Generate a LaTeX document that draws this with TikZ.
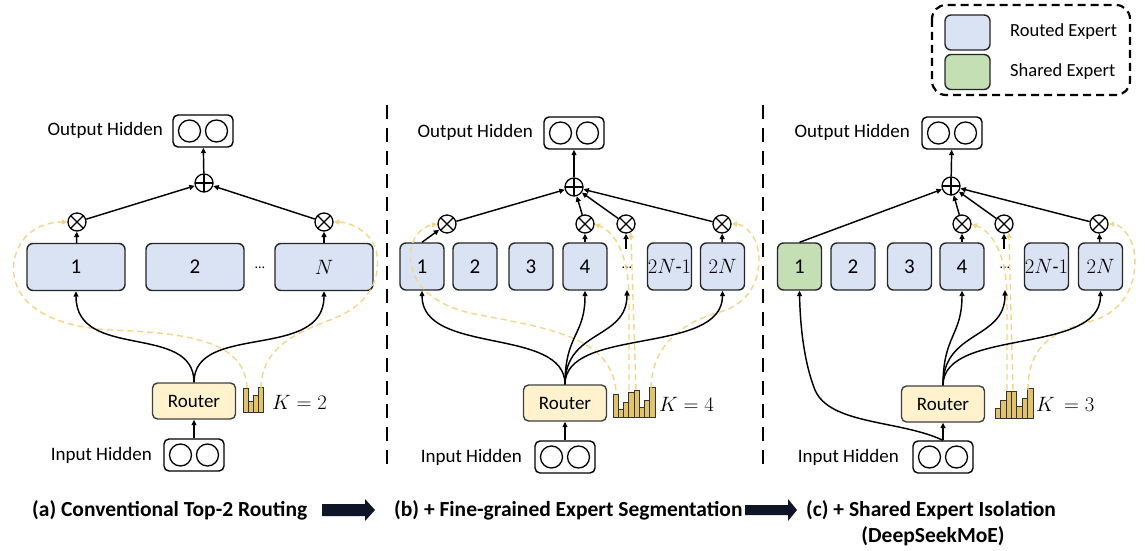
\documentclass[tikz,border=0pt]{standalone}
\usepackage{fontspec}
\setmainfont{Carlito}
\usetikzlibrary{arrows.meta}
\definecolor{routed}{HTML}{DAE3F3}
\definecolor{shared}{HTML}{C5DFB5}
\definecolor{routerfill}{HTML}{FFF2CC}
\definecolor{gold}{HTML}{E0C36A}
\definecolor{ydash}{HTML}{F3D68A}
\definecolor{navy}{HTML}{0E1526}
\tikzset{
 ln/.style={line width=1.45pt, -{Triangle[length=5.5pt,width=5pt]}},
 yd/.style={draw=ydash, line width=1.4pt, dash pattern=on 6pt off 4pt, -{Triangle[length=5.5pt,width=5pt,fill=ydash]}},
 expert/.style={draw=black!85, line width=1.4pt, rounded corners=6pt, fill=routed, minimum height=47pt, inner sep=0pt, font=\fontsize{21}{21}\selectfont},
 wide/.style={expert, minimum width=98pt},
 narrow/.style={expert, minimum width=44pt},
 router/.style={draw=black!75, line width=1.4pt, rounded corners=5pt, fill=routerfill, minimum width=83pt, minimum height=36pt, font=\fontsize{19}{19}\selectfont},
 hid/.style={draw, line width=1.4pt, rounded corners=5pt, minimum width=60pt, minimum height=32pt, fill=white},
 lbl/.style={font=\fontsize{19}{19}\selectfont, inner sep=0pt},
 ktxt/.style={font=\fontsize{21}{21}\selectfont, inner sep=0pt},
 captxt/.style={font=\fontsize{21.5}{21.5}\selectfont\bfseries, inner sep=0pt},
 mul/.style={circle, draw, line width=1.3pt, minimum size=18pt, inner sep=0pt, fill=white, path picture={\draw[line width=1.3pt] (path picture bounding box.north west) -- (path picture bounding box.south east) (path picture bounding box.north east) -- (path picture bounding box.south west);}},
 add/.style={circle, draw, line width=1.3pt, minimum size=18pt, inner sep=0pt, fill=white, path picture={\draw[line width=1.3pt] (path picture bounding box.north) -- (path picture bounding box.south) (path picture bounding box.east) -- (path picture bounding box.west);}},
 sep/.style={line width=2.2pt, dash pattern=on 14pt off 9pt},
 barst/.style={fill=gold, draw=black!80, line width=0.6pt},
}
\newcommand\hiddenbox[2]{%
  \node[hid] (#1) at (#2) {};
  \draw[line width=1.3pt] (#1.center) ++(-13.5,0) circle[radius=11pt];
  \draw[line width=1.3pt] (#1.center) ++(13.5,0) circle[radius=11pt];}
\newcommand\barsicon[4]{%
  \foreach \h [count=\i] in {#4} {\draw[barst] ({#1+(\i-1)*#2},#3) rectangle ++(#2,-\h);}}
\begin{document}
\begin{tikzpicture}[x=1pt,y=-1pt]
\useasboundingbox (0,0) rectangle (1145,551);
\fill[white] (0,0) rectangle (1145,551);

% ---------------- panel (a)
\hiddenbox{oa}{203,131}
\node[lbl, anchor=east] (toa) at (163,130) {Output Hidden};
\node[add] (pa) at (204,183) {};
\node[mul] (ma1) at (77,222) {};
\node[mul] (maN) at (324,222) {};
\node[wide] (ea1) at (76,267) {1};
\node[wide] (ea2) at (195,267) {2};
\node[wide] (eaN) at (324,267) {$N$};
\node[lbl] (dta) at (260,268) {\fontsize{14}{14}\selectfont\ldots};
\node[router] (ra) at (194,401) {Router};
\barsicon{243}{5}{412}{24,11,17,25}
\node[ktxt, anchor=west] (ka) at (272,402) {$K=2$};
\hiddenbox{ia}{194,455}
\node[lbl, anchor=east] (tia) at (152,455) {Input Hidden};
\coordinate (ya1) at (247,388);
\coordinate (ya2) at (261,388);

\draw[yd] (ya1) .. controls (245,345) and (200,333) .. (110,330) .. controls (30,325) and (10,290) .. (14,262) .. controls (18,235) and (40,222) .. (ma1.west);
\draw[yd] (ya2) .. controls (262,350) and (290,335) .. (330,320) .. controls (370,305) and (380,280) .. (377,255) .. controls (374,232) and (350,222) .. (maN.east);

\draw[ln] (ia) -- (ra);
\draw[ln] (ra.north) .. controls +(0,-60) and +(0,70) .. (ea1.south);
\draw[ln] (ra.north) .. controls +(0,-60) and +(0,70) .. (eaN.south);
\draw[ln] (ea1) -- (ma1);
\draw[ln] (eaN) -- (maN);
\draw[ln] (ma1) -- (pa);
\draw[ln] (maN) -- (pa);
\draw[ln] (pa) -- (oa);

% separators
\draw[sep] (387,105) -- (387,468);
\draw[sep] (763,105) -- (763,468);

% ---------------- panel (b)
\hiddenbox{ob}{574,133}
\node[lbl, anchor=east] (tob) at (533,132) {Output Hidden};
\node[add] (pb) at (574,187) {};
\node[mul] (mb1) at (447,224) {};
\node[mul] (mb4) at (585,224) {};
\node[mul] (mbd) at (626,224) {};
\node[mul] (mb6) at (722,224) {};
\node[narrow] (eb1) at (422,266.5) {1};
\node[narrow] (eb2) at (475,266.5) {2};
\node[narrow] (eb3) at (531,266.5) {3};
\node[narrow] (eb4) at (585,266.5) {4};
\node[lbl] (dtb) at (627,268) {\fontsize{14}{14}\selectfont\ldots};
\node[narrow, font=\fontsize{19.5}{19.5}\selectfont] (eb5) at (669.5,266.5) {$2N$\mbox{-}$1$};
\node[narrow] (eb6) at (722.5,266.5) {$2N$};
\node[router] (rb) at (565,403) {Router};
\barsicon{613}{5.25}{417}{23,8,15,25,27,10,17,30}
\node[ktxt, anchor=west] (kb) at (659,404) {$K=4$};
\hiddenbox{ib}{565,457}
\node[lbl, anchor=east] (tib) at (522,457) {Input Hidden};
\coordinate (db) at (627,290);
\coordinate (dbt) at (626,249);

\draw[yd] (616,390) .. controls (610,340) and (560,330) .. (480,315) .. controls (420,305) and (405,270) .. (412,245) .. controls (416,232) and (425,226) .. (mb1.west);
\draw[yd] (629,390) -- (629,300) .. controls (629,255) and (615,232) .. (mb4.east);
\draw[yd] (636,390) -- (mbd.-60);
\draw[yd] (651,388) .. controls (652,340) and (690,320) .. (720,312) .. controls (755,302) and (762,270) .. (758,250) .. controls (755,232) and (742,224) .. (mb6.east);

\draw[ln] (ib) -- (rb);
\draw[ln] (rb.north) .. controls +(0,-58) and +(0,65) .. (eb1.south);
\draw[ln] (rb.north) .. controls +(0,-50) and +(0,45) .. (eb4.south);
\draw[ln] (rb.north) .. controls +(0,-55) and +(0,50) .. (db);
\draw[ln] (rb.north) .. controls +(0,-58) and +(0,65) .. (eb6.south);
\draw[ln] (eb1.north) -- (mb1);
\draw[ln] (eb4) -- (mb4);
\draw[ln] (dbt) -- (mbd);
\draw[ln] (eb6) -- (mb6);
\draw[ln] (mb1) -- (pb);
\draw[ln] (mb4) -- (pb);
\draw[ln] (mbd) -- (pb);
\draw[ln] (mb6) -- (pb);
\draw[ln] (pb) -- (ob);

% ---------------- panel (c)
\hiddenbox{oc}{952,133}
\node[lbl, anchor=east] (toc) at (910,132) {Output Hidden};
\node[add] (pc) at (951,186) {};
\node[mul] (mc4) at (962,224) {};
\node[mul] (mcd) at (1004,224) {};
\node[mul] (mc6) at (1099,224) {};
\node[narrow, fill=shared] (ec1) at (799.5,266.5) {1};
\node[narrow] (ec2) at (853,266.5) {2};
\node[narrow] (ec3) at (909.5,266.5) {3};
\node[narrow] (ec4) at (962,266.5) {4};
\node[lbl] (dtc) at (1005,268) {\fontsize{14}{14}\selectfont\ldots};
\node[narrow, font=\fontsize{19.5}{19.5}\selectfont] (ec5) at (1046.5,266.5) {$2N$\mbox{-}$1$};
\node[narrow] (ec6) at (1100.5,266.5) {$2N$};
\node[router] (rc) at (943,404) {Router};
\barsicon{995}{5.4}{418}{10,18,27,27,12,20,30}
\node[ktxt, anchor=west] (kc) at (1036,404) {$K\,=3$};
\hiddenbox{ic}{943,457}
\node[lbl, anchor=east] (tic) at (899,457) {Input Hidden};
\coordinate (dc) at (1005,290);
\coordinate (dct) at (1004,249);

\draw[yd] (1007,390) -- (1007,300) .. controls (1007,255) and (993,232) .. (mc4.east);
\draw[yd] (1013,390) -- (mcd.-60);
\draw[yd] (1028,390) .. controls (1028,340) and (1060,330) .. (1095,320) .. controls (1130,308) and (1138,275) .. (1134,250) .. controls (1130,232) and (1118,224) .. (mc6.east);

\draw[ln] (ic) -- (rc);
\draw[ln] (ic.north) .. controls (900,420) and (830,425) .. (815,390) .. controls (803,360) and (800,320) .. (ec1.south);
\draw[ln] (rc.north) .. controls +(0,-50) and +(0,45) .. (ec4.south);
\draw[ln] (rc.north) .. controls +(0,-55) and +(0,50) .. (dc);
\draw[ln] (rc.north) .. controls +(0,-58) and +(0,65) .. (ec6.south);
\draw[ln] (ec1.north) -- (pc);
\draw[ln] (ec4) -- (mc4);
\draw[ln] (dct) -- (mcd);
\draw[ln] (ec6) -- (mc6);
\draw[ln] (mc4) -- (pc);
\draw[ln] (mcd) -- (pc);
\draw[ln] (mc6) -- (pc);
\draw[ln] (pc) -- (oc);

% ---------------- legend
\draw[line width=2.2pt, dash pattern=on 8pt off 5pt, rounded corners=14pt] (932,5) rectangle (1130,95);
\node[draw=black!85, line width=1.4pt, rounded corners=6pt, fill=routed, minimum width=45pt, minimum height=35pt] (lg1) at (967.5,32.5) {};
\node[draw=black!85, line width=1.4pt, rounded corners=6pt, fill=shared, minimum width=45pt, minimum height=35pt] (lg2) at (967.5,72) {};
\node[lbl, anchor=west, font=\fontsize{18.5}{18.5}\selectfont] (lt1) at (1010,32) {Routed Expert};
\node[lbl, anchor=west, font=\fontsize{18.5}{18.5}\selectfont] (lt2) at (1010,72) {Shared Expert};

% ---------------- captions
\node[captxt, anchor=west] (ca) at (32,510) {(a) Conventional Top-2 Routing};
\node[captxt, anchor=west] (cb) at (394,510) {(b) + Fine-grained Expert Segmentation};
\node[captxt, anchor=west] (cc) at (806,510) {(c) + Shared Expert Isolation};
\node[captxt] (cd) at (933,536) {(DeepSeekMoE)};
\fill[navy] (322,504) -- (365,504) -- (365,499) -- (375,510) -- (365,521) -- (365,516) -- (322,516) -- cycle;
\fill[navy] (745,505) -- (788,505) -- (788,499) -- (797,510) -- (788,521) -- (788,515) -- (745,515) -- cycle;
\end{tikzpicture}
\end{document}
